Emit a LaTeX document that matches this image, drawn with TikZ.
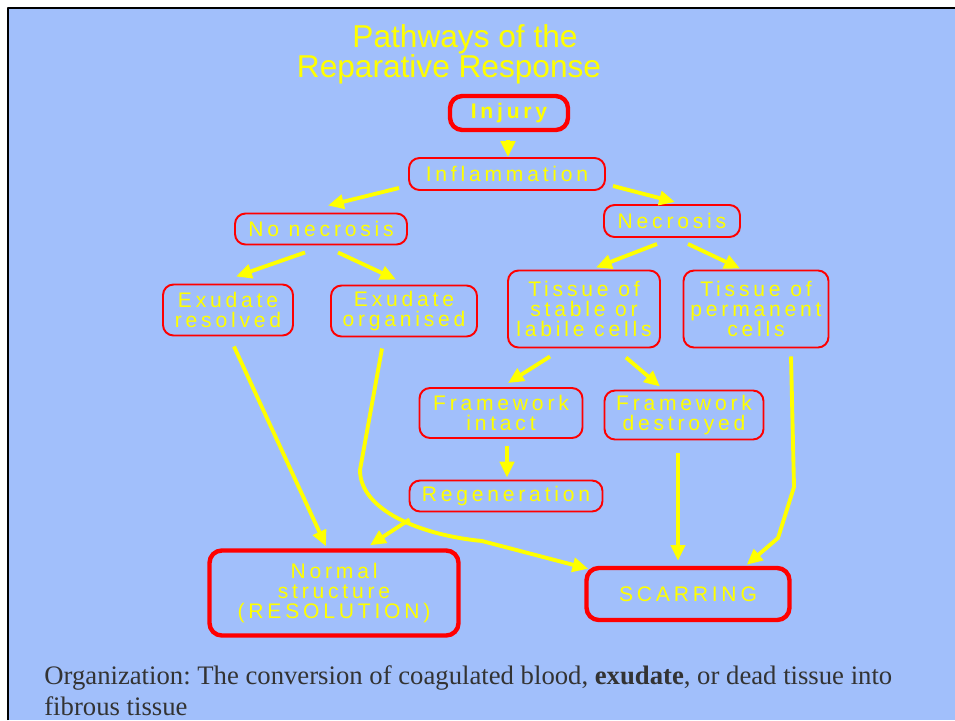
\documentclass[tikz,border=0pt]{standalone}
\usepackage{fontspec}
\setmainfont{Liberation Serif}
\newfontfamily\boxfont[LetterSpace=18]{Liberation Sans}
\newfontfamily\headfont{Liberation Sans}
\usetikzlibrary{arrows.meta,calc}
\definecolor{slidebg}{RGB}{161,191,251}
\definecolor{pathyellow}{RGB}{255,255,0}
\definecolor{boxred}{RGB}{255,0,0}
\definecolor{notegray}{RGB}{51,51,51}
\frenchspacing
\begin{document}
\begin{tikzpicture}[x=0.02cm, y=-0.02cm, >={Triangle[length=9pt,width=8pt]}, line join=round,
	box/.style={draw=boxred, line width=1.1pt, rounded corners=6pt, align=center, inner sep=0pt,
		text=pathyellow, font=\boxfont\fontsize{12}{11.6}\selectfont},
	bigbox/.style={box, line width=2.5pt, rounded corners=7pt},
	sz/.style 2 args={minimum width=#1*\pxu, minimum height=#2*\pxu},
	arr/.style={->, draw=pathyellow, line width=2.2pt}]
	\def\pxu{0.02cm} % one pixel of the slide
	\useasboundingbox (0,0) rectangle (955,720);
	\fill[slidebg] (8,8) rectangle (955,720);
	\draw[line width=1.5pt] (8,720) -- (8,8) -- (955,8);
	% title
	\node[anchor=base, inner sep=0pt, text=pathyellow, font=\headfont\fontsize{18}{18}\selectfont] (title1) at (465,47) {Pathways of the};
	\node[anchor=base, inner sep=0pt, text=pathyellow, font=\headfont\fontsize{18}{18}\selectfont] (title2) at (449,77) {Reparative Response};
	% boxes
	\node[bigbox, sz={118}{34}, font=\boxfont\bfseries\fontsize{12}{11.6}\selectfont] (injury) at (509,113) {Injury};
	\node[box, sz={196}{32}] (infl) at (507,174) {Inflammation};
	\node[box, sz={172}{31}] (nonec) at (321,229) {No necrosis};
	\node[box, sz={136}{32}] (nec) at (672,221) {Necrosis};
	\node[box, sz={130}{51}] (exres) at (228,310) {Exudate\\resolved};
	\node[box, sz={146}{51}] (exorg) at (404,311) {Exudate\\organised};
	\node[box, sz={152}{77}] (tstable) at (584,309) {Tissue of\\stable or\\labile cells};
	\node[box, sz={145}{77}] (tperm) at (756,309) {Tissue of\\permanent\\cells};
	\node[box, sz={163}{50}] (fwint) at (501,413) {Framework\\intact};
	\node[box, sz={159}{49}] (fwdes) at (684,415) {Framework\\destroyed};
	\node[box, sz={193}{31}] (regen) at (506,496) {Regeneration};
	\node[bigbox, sz={249}{85}] (normal) at (334,593) {Normal\\structure\\(RESOLUTION)};
	\node[bigbox, sz={203}{52}] (scar) at (688,594) {SCARRING};
	% arrows
	\draw[arr] ($(injury.south)+(-1,8)$) -- ($(infl.north)+(1,0)$);
	\draw[arr] ($(infl.south west)+(-9,-3)$) -- ($(nonec.north)+(7,-7)$);
	\draw[arr] ($(infl.south east)+(7,-5)$) -- ($(nec.north)+(3,-2)$);
	\draw[arr] ($(nonec.south)+(-16,7)$) -- ($(exres.north)+(8,-7)$);
	\draw[arr] ($(nonec.south)+(17,7)$) -- ($(exorg.north)+(-8,-5)$);
	\draw[arr] ($(nec.south)+(-15,6)$) -- ($(tstable.north)+(12,-2)$);
	\draw[arr] ($(nec.south)+(16,6)$) -- ($(tperm.north)+(-16,-1)$);
	\draw[arr] ($(tstable.south)+(-34,8)$) -- ($(fwint.north)+(7,-4)$);
	\draw[arr] ($(tstable.south)+(42,9)$) -- ($(fwdes.north)+(-24,-3)$);
	\draw[arr] ($(fwint.south)+(6,7)$) -- ($(regen.north)+(1,-2)$);
	\draw[arr] ($(exres.south)+(6,10)$) -- ($(normal.north)+(-8,-2)$);
	\draw[arr] ($(regen.south west)+(1,7)$) -- ($(normal.north)+(36,-3)$);
	\draw[arr] ($(exorg.south)+(-22,11)$) -- (360,470) .. controls (360,510) and (420,535) .. (482,541) -- ($(scar.north west)+(4,3)$);
	\draw[arr] ($(fwdes.south)+(-6,13)$) -- ($(scar.north)+(-10,-5)$);
	\draw[arr] ($(tperm.south)+(35,8)$) -- (794,487) -- (778,538) -- ($(scar.north east)+(-45,-1)$);
	% note
	\node[anchor=base west, inner sep=0pt, text=notegray, font=\fontsize{15.2}{18}\selectfont] (note1) at (44,684) {Organization: The conversion of coagulated blood, \textbf{exudate}, or dead tissue into};
	\node[anchor=base west, inner sep=0pt, text=notegray, font=\fontsize{15.2}{18}\selectfont] (note2) at (44,715) {fibrous tissue};
\end{tikzpicture}
\end{document}
